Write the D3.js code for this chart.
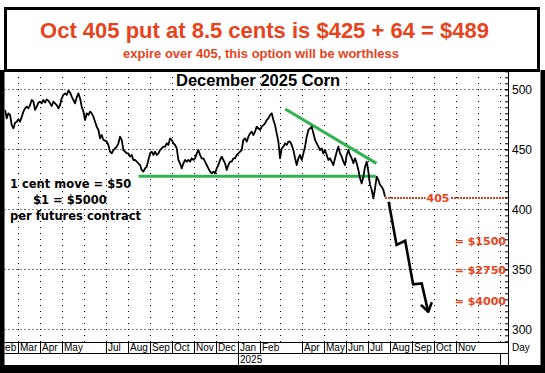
<!DOCTYPE html>
<html><head><meta charset="utf-8">
<script src="https://cdn.jsdelivr.net/npm/d3@7"></script>
<style>body{margin:0;background:#fff}svg{display:block}</style>
</head><body>
<svg id="c" width="545" height="373"></svg>
<script>
// ---------- data ----------
const priceStart = "2024-02-12";
const priceStepDays = 2.32;
const prices = [
482.8,475.8,480.0,478.6,470.2,467.5,472.2,473.0,475.0,473.0,477.2,481.4,484.1,485.5,484.1,486.9,491.1,489.7,482.8,485.5,
488.9,489.7,488.3,491.1,488.9,491.6,490.5,488.3,486.1,489.7,488.3,486.9,484.1,486.9,492.5,495.3,496.6,495.3,498.9,497.2,
493.9,491.1,488.3,493.3,496.6,492.5,485.5,481.4,474.4,480.0,478.6,481.4,480.0,477.2,473.0,468.9,466.1,459.1,
461.9,457.8,457.2,456.4,453.6,448.0,446.6,449.4,450.8,452.2,455.0,460.5,457.8,449.4,448.0,446.6,446.6,443.9,445.3,441.1,
441.1,439.7,438.3,436.9,432.8,431.4,434.1,435.5,441.1,446.6,448.0,445.3,448.0,445.3,446.6,449.4,450.8,452.2,452.2,455.0,
453.6,459.1,457.8,455.0,453.6,450.8,441.1,438.3,434.1,438.3,441.1,439.7,441.1,439.7,442.5,441.1,442.5,
446.6,449.4,445.3,442.5,442.5,439.7,436.9,434.1,431.4,430.0,431.4,430.0,434.1,436.9,441.1,443.9,441.1,438.3,432.8,436.9,
439.7,439.7,442.5,442.5,445.3,446.6,448.0,449.4,457.8,459.1,456.4,460.5,463.3,464.7,461.9,464.7,468.9,467.5,466.1,468.9,
470.2,471.6,474.4,475.8,478.6,480.0,474.4,470.2,463.3,456.4,442.5,450.8,452.2,455.0,453.6,456.4,456.4,
453.6,449.4,442.5,436.9,442.5,445.3,441.1,446.6,452.2,460.5,466.1,467.5,468.9,463.3,457.8,455.0,452.2,449.4,450.8,446.6,
449.4,445.3,441.1,442.5,439.7,436.9,442.5,448.0,452.2,446.6,443.9,439.7,436.9,445.3,449.4,445.3,442.5,438.3,442.5,438.3,
432.8,425.8,421.6,427.2,435.5,439.7,431.4,420.3,416.1,409.2,417.5,427.2,424.4,420.3,418.9,416.1,410.5
];
const projDates  = ["2025-07-30","2025-08-10","2025-08-22","2025-09-02","2025-09-14","2025-09-23"];
const projValues = [406.3, 370.3, 373.8, 337.5, 338.3, 314.7];
const supportDates = ["2024-08-16","2025-07-12"];
const supportValue = 427.5;
const trendDates  = ["2025-03-08","2025-07-13"];
const trendValues = [483.6, 438.3];
const strikeStart = "2025-07-25";
const strikeDrawValue = 409.5;
const strikeLabel = "405";
const moneyLabels = ["= $1500","= $2750","= $4000"];
const moneyValues = [373.6, 349.4, 323.6];
const monthLabelDates = ["2024-02-01","2024-03-01","2024-04-01","2024-05-01","2024-07-01","2024-08-01","2024-09-01",
  "2024-10-01","2024-11-01","2024-12-01","2025-01-01","2025-02-01","2025-04-01","2025-05-01","2025-06-01","2025-07-01",
  "2025-08-01","2025-09-01","2025-10-01","2025-11-01"];
const yearBreaks = ["2025-01-01","2026-01-01"];
const yearLabels = ["2025"];
const yTicks = [300,350,400,450,500];
const titleText = "Oct 405 put at 8.5 cents is $425 + 64 = $489";
const subtitleText = "expire over 405, this option will be worthless";
const chartTitle = "December 2025 Corn";
const noteLines = ["1 cent move = $50","$1 = $5000","per futures contract"];

// ---------- layout ----------
const svg = d3.select("#c");
const L = 4.5, R = 508, T = 71, B = 342;
const parse = d3.timeParse("%Y-%m-%d");
const x = d3.scaleTime().domain([new Date(2024,2,1), new Date(2026,0,1)]).range([18, 500]);
const y = d3.scaleLinear().domain([300, 500]).range([329.3, 89.3]);
const RED = "#e8431c";

svg.append("rect").attr("width",545).attr("height",373).attr("fill","#fff");

svg.append("clipPath").attr("id","plot").append("rect")
  .attr("x",L).attr("y",T).attr("width",R-L).attr("height",B-T);
svg.append("clipPath").attr("id","mrow").append("rect")
  .attr("x",L).attr("y",B).attr("width",R-L).attr("height",24);

// grid
const months = d3.timeMonth.range(new Date(2024,1,1), new Date(2026,0,2));
const grid = svg.append("g").attr("clip-path","url(#plot)");
grid.selectAll(".gv").data(months).join("line")
  .attr("x1",d=>Math.round(x(d))+0.5).attr("x2",d=>Math.round(x(d))+0.5).attr("y1",T).attr("y2",B)
  .attr("stroke","#000").attr("stroke-width",1).attr("stroke-dasharray","1,5");
grid.selectAll(".gh").data(yTicks).join("line")
  .attr("x1",L).attr("x2",R).attr("y1",d=>Math.round(y(d))+0.5).attr("y2",d=>Math.round(y(d))+0.5)
  .attr("stroke","#000").attr("stroke-width",1).attr("stroke-dasharray","1,3");

// note text
const notes = svg.append("g").attr("font-family","DejaVu Sans, sans-serif").attr("font-weight","bold")
  .attr("font-size",11.5).attr("fill","#000");
notes.selectAll("text").data(noteLines).join("text")
  .attr("x",(d,i)=> i===1 ? 33 : 10).attr("y",(d,i)=>[188,203.5,220][i]).text(d=>d);

// chart title
svg.append("text").attr("x",176).attr("y",86).attr("font-family","Liberation Sans, Arial, sans-serif")
  .attr("font-weight","bold").attr("font-size",16.5).text(chartTitle);

const plot = svg.append("g").attr("clip-path","url(#plot)");

// green lines
plot.append("line")
  .attr("x1",x(parse(supportDates[0]))).attr("x2",x(parse(supportDates[1])))
  .attr("y1",y(supportValue)).attr("y2",y(supportValue))
  .attr("stroke","#2fb350").attr("stroke-width",3);
plot.append("line")
  .attr("x1",x(parse(trendDates[0]))).attr("x2",x(parse(trendDates[1])))
  .attr("y1",y(trendValues[0])).attr("y2",y(trendValues[1]))
  .attr("stroke","#2fb350").attr("stroke-width",3);

// price line
const t0 = parse(priceStart);
const priceData = prices.map((v,i)=>({date:new Date(+t0 + i*priceStepDays*864e5), value:v}));
plot.append("path").datum(priceData)
  .attr("d", d3.line().x(d=>x(d.date)).y(d=>y(d.value)))
  .attr("fill","none").attr("stroke","#000").attr("stroke-width",1.8).attr("stroke-linejoin","round");

// strike line
plot.append("line")
  .attr("x1",x(parse(strikeStart))).attr("x2",R)
  .attr("y1",y(strikeDrawValue)).attr("y2",y(strikeDrawValue))
  .attr("stroke","#c2431d").attr("stroke-width",2).attr("stroke-dasharray","2,1");
const slg = svg.append("g");
const slbg = slg.append("rect").attr("fill","#fff");
const sl = slg.append("text").attr("x",438).attr("y",y(strikeDrawValue)+4)
  .attr("text-anchor","middle").attr("font-family","DejaVu Sans, sans-serif")
  .attr("font-weight","bold").attr("font-size",11).attr("fill",RED).text(strikeLabel);
const bb = sl.node().getBBox();
slbg.attr("x",bb.x-1).attr("y",bb.y+1).attr("width",bb.width+2).attr("height",bb.height-2);

// projection arrow
const proj = projDates.map((d,i)=>({date:parse(d), value:projValues[i]}));
plot.append("path").datum(proj)
  .attr("d", d3.line().x(d=>x(d.date)).y(d=>y(d.value)))
  .attr("fill","none").attr("stroke","#000").attr("stroke-width",2.6).attr("stroke-linejoin","miter");
const pa = proj[proj.length-2], pb = proj[proj.length-1];
const ax = x(pb.date), ay = y(pb.value);
const ang = Math.atan2(ay - y(pa.value), ax - x(pa.date));
[Math.PI - 0.6, Math.PI + 0.6].forEach(o=>{
  plot.append("line").attr("x1",ax).attr("y1",ay)
    .attr("x2",ax + 9*Math.cos(ang+o)).attr("y2",ay + 9*Math.sin(ang+o))
    .attr("stroke","#000").attr("stroke-width",2.6).attr("stroke-linecap","round");
});

// money labels
svg.append("g").attr("font-family","DejaVu Sans, sans-serif").attr("font-weight","bold")
  .attr("font-size",11).attr("fill",RED).attr("text-anchor","end")
  .selectAll("text").data(moneyLabels).join("text")
  .attr("x",506).attr("y",(d,i)=>y(moneyValues[i])+4).text(d=>d);

// right axis
const yAxisMinor = d3.axisRight(y).tickValues(d3.range(290,516,5)).tickSize(-3).tickFormat("");
const yAxisMajor = d3.axisRight(y).tickValues(yTicks).tickSize(-3).tickPadding(4).tickFormat(d3.format("d"));
const ga = svg.append("g").attr("transform",`translate(${R},0)`);
ga.call(yAxisMinor); ga.select(".domain").remove();
const gb = svg.append("g").attr("transform",`translate(${R},0)`);
gb.call(yAxisMajor); gb.select(".domain").remove();
gb.selectAll("text").attr("font-family","Liberation Sans, Arial, sans-serif").attr("font-size",12).attr("fill","#000");
svg.selectAll(".tick line").attr("stroke","#000");
svg.append("line").attr("x1",R+0.5).attr("x2",R+0.5).attr("y1",T).attr("y2",366).attr("stroke","#000");
svg.append("text").attr("x",512).attr("y",351).attr("font-family","Liberation Sans, Arial, sans-serif")
  .attr("font-size",10).text("Day");

// bottom axis
svg.append("line").attr("x1",L).attr("x2",R).attr("y1",B+0.5).attr("y2",B+0.5).attr("stroke","#000");
svg.append("line").attr("x1",L).attr("x2",R).attr("y1",353.5).attr("y2",353.5).attr("stroke","#000");
const mrow = svg.append("g").attr("clip-path","url(#mrow)");
const md = monthLabelDates.map(parse);
mrow.selectAll(".ms").data(md).join("line")
  .attr("x1",d=>Math.round(x(d))+0.5).attr("x2",d=>Math.round(x(d))+0.5).attr("y1",B).attr("y2",353.5)
  .attr("stroke","#000");
mrow.selectAll(".mt").data(md).join("text")
  .attr("x",d=>Math.round(x(d))+2).attr("y",351)
  .attr("font-family","Liberation Sans, Arial, sans-serif").attr("font-size",10)
  .text(d3.timeFormat("%b"));
svg.selectAll(".ys").data(yearBreaks.map(parse)).join("line")
  .attr("x1",d=>Math.round(x(d))+0.5).attr("x2",d=>Math.round(x(d))+0.5).attr("y1",353.5).attr("y2",365)
  .attr("stroke","#000");
svg.selectAll(".yt").data(yearLabels).join("text")
  .attr("x",d=>Math.round(x(parse(d+"-01-01")))+2).attr("y",363)
  .attr("font-family","Liberation Sans, Arial, sans-serif").attr("font-size",10).text(d=>d);

// frame
svg.append("rect").attr("x",0).attr("y",T-1).attr("width",4.5).attr("height",373-T+1).attr("fill","#000");
svg.append("rect").attr("x",540.5).attr("y",T-1).attr("width",4.5).attr("height",373-T+1).attr("fill","#000");
svg.append("rect").attr("x",0).attr("y",365).attr("width",545).attr("height",8).attr("fill","#000");

// title box
svg.append("rect").attr("x",5.5).attr("y",8.5).attr("width",533).attr("height",62)
  .attr("fill","none").attr("stroke","#000").attr("stroke-width",3);
svg.append("text").attr("x",264.5).attr("y",38).attr("text-anchor","middle")
  .attr("font-family","Liberation Sans, Arial, sans-serif").attr("font-weight","bold")
  .attr("font-size",22).attr("fill",RED).text(titleText);
svg.append("text").attr("x",261).attr("y",58).attr("text-anchor","middle")
  .attr("font-family","Liberation Sans, Arial, sans-serif").attr("font-weight","bold")
  .attr("font-size",13).attr("fill",RED).text(subtitleText);
</script>
</body></html>
